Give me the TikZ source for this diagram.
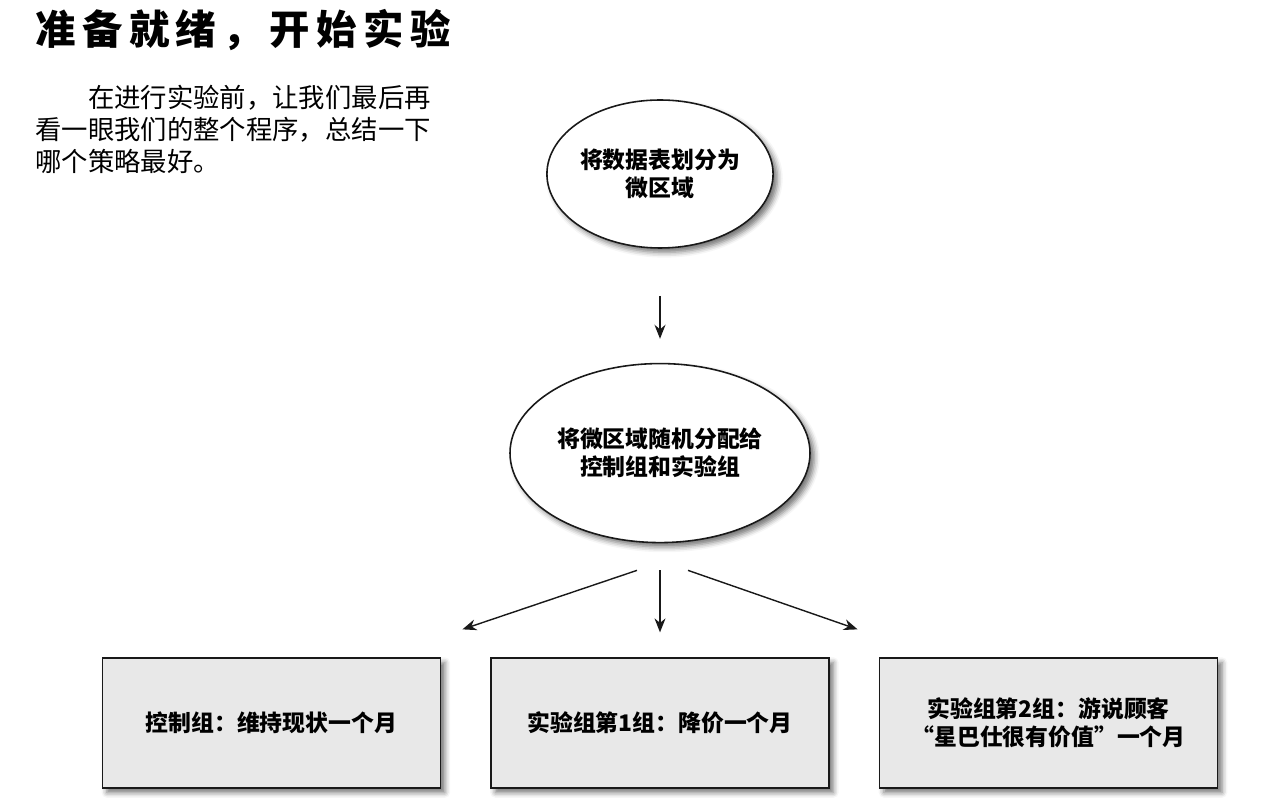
\documentclass[tikz,border=0pt]{standalone}
\usepackage{fontspec}
\usepackage{xcolor}
\usepackage{tikz}
\usetikzlibrary{arrows.meta, positioning, shapes.geometric, shadows.blur}
\newfontfamily\cjk{Noto Sans CJK SC}
\definecolor{inkblack}{RGB}{25, 25, 25}
\definecolor{boxgray}{RGB}{232, 232, 232}

\begin{document}
\begin{tikzpicture}[
    bubble/.style={ellipse, draw=inkblack, line width=0.9pt, fill=white, align=center, inner sep=0pt,
        font=\cjk\bfseries\fontsize{13}{16}\selectfont,
        blur shadow={shadow xshift=2.5pt, shadow yshift=-2.5pt, shadow blur radius=3pt, shadow opacity=55}},
    groupbox/.style={rectangle, draw=inkblack, line width=0.9pt, fill=boxgray, align=center,
        minimum width=6.76cm, minimum height=2.6cm, font=\cjk\bfseries\fontsize{13}{16}\selectfont,
        blur shadow={shadow xshift=2.5pt, shadow yshift=-2.5pt, shadow blur radius=3pt, shadow opacity=55}},
    flow/.style={-{Stealth[length=2.8mm, width=2.2mm]}, line width=0.8pt, draw=inkblack}]
    \useasboundingbox (0,0) rectangle (25.26,16.02);
    \node [anchor=west, inner sep=0pt, font=\cjk\bfseries\fontsize{23}{28}\selectfont\addfontfeatures{LetterSpace=16}] (title) at (0.7,15.42) {准备就绪，开始实验};
    \node [anchor=base west, inner sep=0pt, align=left, font=\cjk\fontsize{15}{18.4}\selectfont] (intro) at (0.7,12.58)
        {\hspace*{2em}在进行实验前，让我们最后再\\看一眼我们的整个程序，总结一下\\哪个策略最好。};

    \node [bubble, minimum width=4.4cm, minimum height=2.96cm] (split) at (13.2,12.54) {将数据表划分为\\微区域};
    \node [bubble, minimum width=6.0cm, minimum height=3.58cm, below=2.28cm of split] (assign) {将微区域随机分配给\\控制组和实验组};
    \node [groupbox, below=2.28cm of assign] (price) {实验组第1组：降价一个月};
    \node [groupbox, left=0.98cm of price] (control) {控制组：维持现状一个月};
    \node [groupbox, right=0.98cm of price] (persuade) {实验组第2组：游说顾客\\“星巴仕很有价值”一个月};

    \draw [flow, shorten <=0.94cm, shorten >=0.48cm] (split) -- (assign);
    \draw [flow, shorten <=0.54cm, shorten >=0.5cm] (assign) -- (price);
    \draw [flow] ([xshift=-0.46cm, yshift=-0.54cm]assign.south) -- ([xshift=3.82cm, yshift=0.56cm]control.north);
    \draw [flow] ([xshift=0.56cm, yshift=-0.54cm]assign.south) -- ([xshift=-3.82cm, yshift=0.56cm]persuade.north);
\end{tikzpicture}
\end{document}
